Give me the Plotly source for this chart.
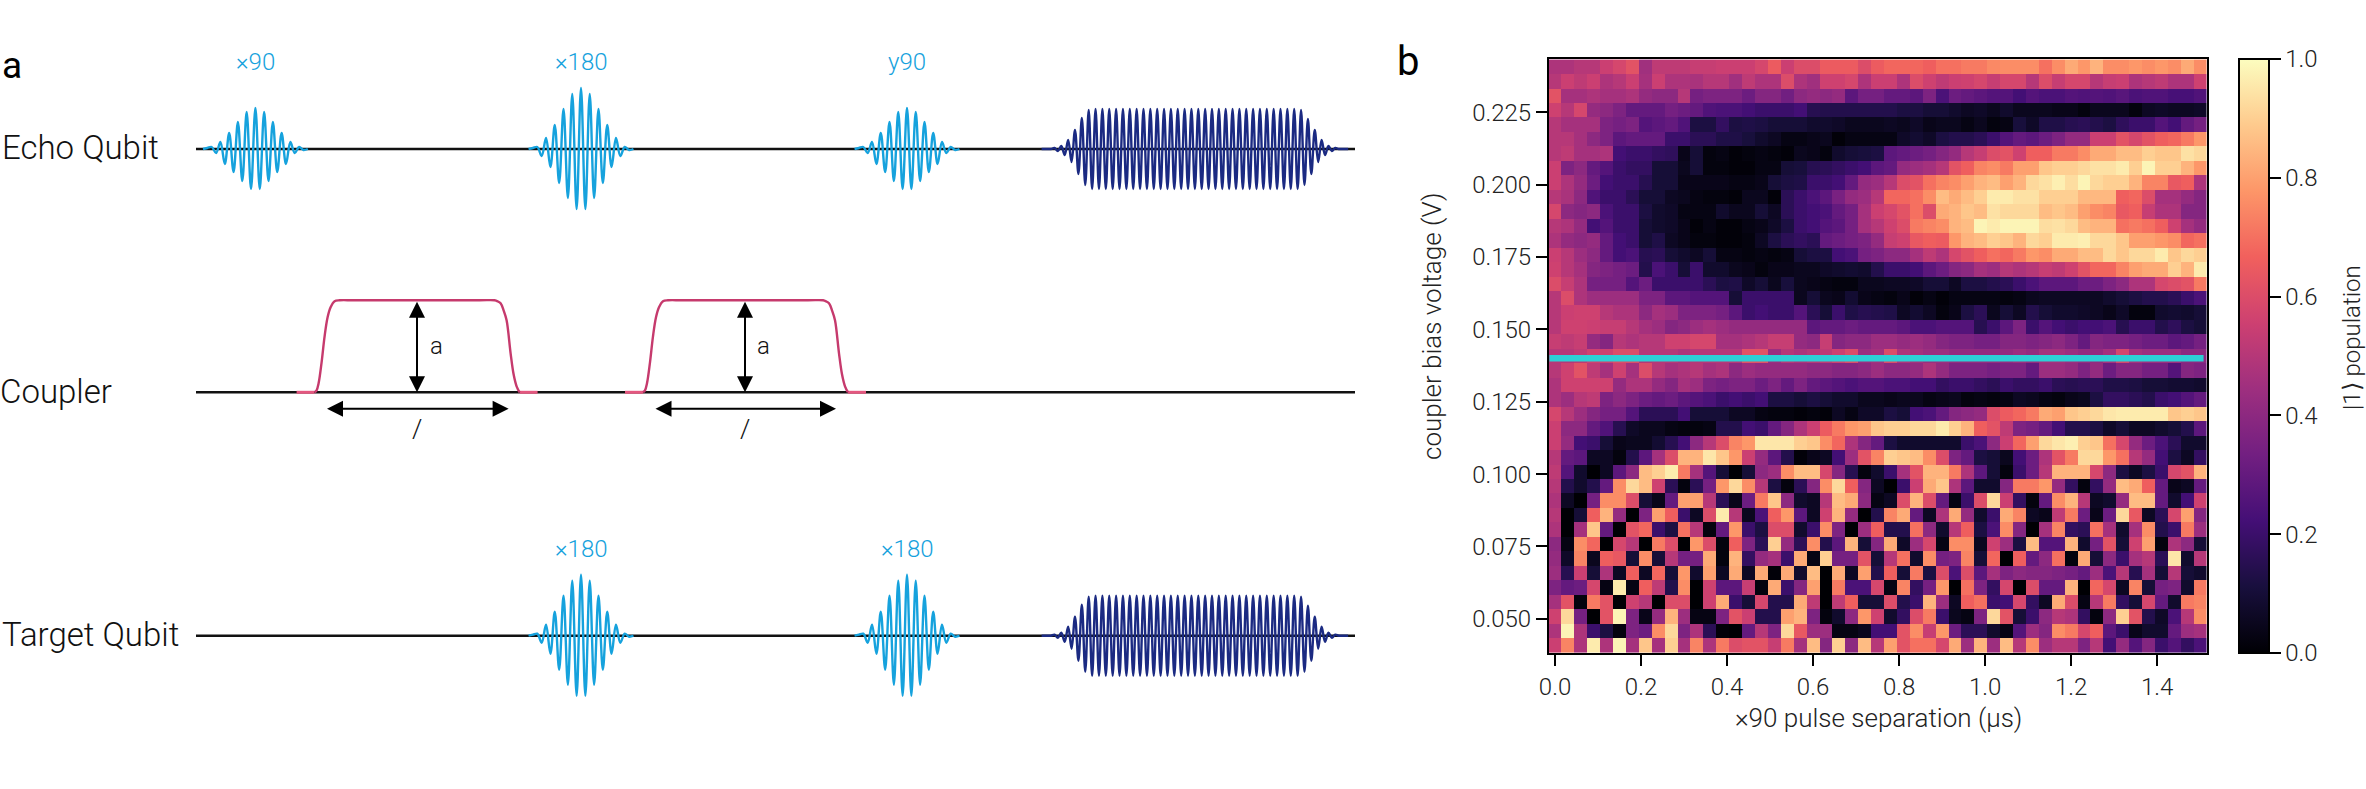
import plotly.graph_objects as go

W, H = 2366, 789
FONT = "Roboto"
BLUE, NAVY, PINK, PINK_LIGHT = "#16a2dd", "#1b2a82", "#c63a6d", "#e4577f"
CYAN = "#2dd0d6"

# ---- panel b: population, percent, top row first ----
pulse_sep_us = [i * 0.03 for i in range(51)]
bias_v = [0.2407 - i * 0.005 for i in range(41)]
tick_x = [0.0, 0.2, 0.4, 0.6, 0.8, 1.0, 1.2, 1.4]
tick_y = [0.05, 0.075, 0.1, 0.125, 0.15, 0.175, 0.2, 0.225]
cut_v = 0.14
cut_us = [-0.013, 1.508]

population = [
[48,48,50,50,55,58,62,45,52,52,52,54,54,55,55,55,58,65,55,60,60,65,65,65,60,65,68,68,68,66,70,70,72,72,75,76,76,76,70,76,82,78,84,76,76,78,76,78,76,82,76],
[50,55,52,55,48,50,55,46,55,48,48,47,50,50,45,52,48,48,60,48,45,56,56,58,48,55,55,48,60,56,52,55,56,58,54,58,58,50,60,54,58,58,50,54,55,48,50,52,48,48,56],
[62,46,46,48,46,46,48,42,40,40,50,34,36,36,36,32,38,38,33,40,42,40,42,28,34,34,30,30,28,36,24,32,30,28,26,26,22,26,24,24,26,25,26,25,27,24,25,25,23,23,25],
[56,50,58,42,40,36,30,30,30,34,32,30,25,24,24,22,20,20,20,22,15,14,14,14,14,14,14,12,12,10,10,8,6,7,5,8,5,5,5,4,4,2,5,5,5,2,6,7,6,6,7],
[50,46,46,46,36,34,36,26,28,30,25,12,12,18,12,13,12,10,10,10,8,8,7,5,5,5,6,5,7,4,5,5,3,5,2,3,11,7,13,13,15,16,14,12,17,20,20,26,22,30,34],
[50,50,46,40,36,28,30,30,30,20,20,16,16,13,13,11,8,6,3,3,4,5,1,3,3,3,3,7,9,7,12,14,14,16,20,26,30,28,32,36,42,42,55,55,62,58,62,66,68,72,78],
[50,52,46,46,48,22,20,20,18,17,4,10,2,3,1,2,3,2,1,5,4,2,8,10,11,12,28,30,32,34,38,42,50,54,60,62,56,66,66,72,72,76,82,82,86,86,90,88,88,94,92],
[55,36,40,30,26,20,18,18,10,10,5,10,2,2,1,1,3,3,10,11,15,16,18,20,22,28,30,42,44,46,50,62,66,74,76,72,80,80,88,90,90,92,94,94,96,90,98,90,90,84,78],
[55,48,42,32,22,20,20,15,10,10,4,4,4,4,3,3,4,10,12,13,20,20,22,30,42,44,50,60,62,70,74,76,80,84,86,80,84,92,94,97,93,98,92,90,90,84,74,74,64,66,48],
[50,47,40,25,20,20,16,10,10,6,5,3,2,2,1,5,5,1,16,20,24,28,35,42,44,50,68,68,70,76,86,82,86,90,96,96,94,94,90,90,90,85,85,85,66,68,60,46,46,42,38],
[58,40,38,40,24,20,20,12,8,7,3,3,3,8,5,5,10,6,16,20,22,24,30,34,46,55,58,62,70,60,82,84,88,86,94,92,92,92,86,88,86,80,76,74,64,66,54,48,48,38,38],
[50,48,42,22,26,20,20,10,8,7,4,1,3,1,1,3,4,7,12,20,22,26,28,34,46,50,56,60,72,74,76,84,86,98,96,98,98,98,93,94,92,86,84,84,70,72,70,66,56,46,42],
[48,42,40,42,30,22,20,10,13,6,4,2,2,1,1,2,6,12,16,18,16,30,32,34,36,42,54,56,64,66,65,78,84,86,90,88,84,92,90,96,96,97,92,92,88,80,80,78,76,68,70],
[55,50,44,40,30,22,24,15,16,10,8,6,10,3,3,2,3,2,3,10,12,12,22,24,34,36,40,40,46,52,48,58,62,66,70,68,72,78,76,82,82,86,86,92,88,92,92,96,88,92,90],
[56,50,46,38,36,34,32,14,24,20,10,20,8,8,5,4,2,4,4,5,5,7,8,9,8,14,20,20,22,28,32,38,40,46,44,50,48,50,54,52,56,62,68,68,74,80,82,82,90,84,96],
[60,54,48,34,34,34,26,32,20,20,20,20,16,12,13,7,10,5,11,5,4,3,2,2,5,5,6,6,7,10,10,6,12,12,14,16,20,24,28,28,28,32,32,36,40,48,48,58,60,62,72],
[50,60,48,44,44,44,44,36,36,28,28,26,26,26,10,20,20,20,20,5,10,5,4,9,4,3,2,4,1,3,1,3,3,3,3,2,3,5,6,6,6,6,6,8,10,12,14,14,16,20,24],
[50,55,56,56,50,48,48,40,46,44,36,36,36,34,28,20,22,20,20,26,16,10,20,13,15,14,13,6,9,6,2,4,12,16,5,10,6,14,10,8,8,7,6,4,7,2,2,8,9,8,10],
[50,56,56,55,54,54,50,46,44,38,40,44,46,44,42,42,42,42,42,42,28,30,30,32,30,30,30,28,24,24,26,26,26,15,20,28,36,20,26,22,20,22,22,24,15,20,20,14,17,12,10],
[54,52,54,42,38,50,48,50,50,56,56,58,58,46,46,48,50,54,54,42,40,54,38,40,40,44,44,42,44,42,38,36,36,34,34,38,38,36,38,40,36,30,38,36,36,34,32,32,28,30,34],
[50,50,52,56,56,60,60,50,50,50,48,50,50,50,50,62,62,44,50,48,50,52,56,60,44,46,60,48,46,44,44,42,42,42,42,42,44,42,46,46,44,42,42,46,58,46,44,44,44,40,40],
[50,56,62,52,46,56,46,60,50,46,48,50,46,48,40,44,42,42,42,42,40,40,38,38,40,44,40,40,42,48,42,36,36,36,34,36,36,30,44,44,42,36,42,32,38,38,34,34,26,38,36],
[48,56,56,56,56,42,48,48,42,38,46,44,36,34,36,36,32,36,30,36,30,28,26,24,26,26,24,24,22,22,18,20,20,18,16,20,18,18,20,16,15,16,16,13,13,12,10,10,9,9,8],
[48,44,50,52,36,40,36,32,30,32,28,26,24,20,22,20,22,12,12,10,12,10,8,8,5,5,4,5,5,3,4,5,2,3,2,3,6,5,3,2,4,5,12,18,18,16,14,20,22,26,30],
[58,50,44,38,34,34,26,16,16,16,22,10,10,10,6,6,3,2,2,1,2,1,6,3,7,7,12,10,22,24,30,38,40,42,60,65,68,72,82,80,88,90,92,95,96,96,96,96,88,90,88],
[55,40,40,30,25,15,7,5,5,3,2,2,3,14,14,22,20,30,38,48,55,65,72,78,80,88,90,90,92,92,96,90,84,66,62,52,36,34,30,22,14,14,12,7,10,6,6,8,10,14,28],
[55,42,22,20,10,4,5,5,9,15,22,40,50,60,74,78,95,95,95,90,88,76,68,48,38,30,12,8,8,8,8,8,20,24,40,55,68,80,92,95,97,90,88,70,58,42,32,24,16,8,8],
[50,30,28,6,6,2,14,28,46,60,84,84,95,88,78,55,42,28,14,1,4,6,22,44,62,74,90,88,86,76,60,36,30,12,10,5,22,32,48,62,72,92,92,78,70,50,42,22,12,6,18],
[52,26,8,0,6,28,40,86,90,96,72,46,26,10,0,10,40,44,76,86,86,58,38,15,2,8,20,46,62,84,84,72,48,28,10,2,20,32,50,84,84,84,58,40,12,6,12,20,58,62,84],
[50,14,8,14,30,76,92,86,56,16,2,16,34,78,92,76,50,12,2,16,38,76,92,66,38,6,0,20,55,82,88,48,28,8,8,38,72,72,78,42,18,2,18,42,86,82,66,30,4,6,30],
[48,6,0,34,76,76,60,10,4,30,80,80,50,16,4,32,72,88,40,8,6,50,86,82,40,3,6,60,84,60,30,3,20,60,92,55,18,2,30,76,84,50,6,8,42,86,86,30,8,22,56],
[50,0,10,66,84,42,0,36,80,66,20,6,60,96,50,5,24,66,78,28,6,56,84,42,0,14,74,82,30,6,48,82,42,8,20,82,74,6,4,52,72,32,4,32,92,64,6,16,58,80,38],
[48,0,46,88,30,0,62,68,20,12,70,50,2,30,78,20,12,60,60,8,20,76,36,0,44,66,14,14,70,40,8,50,66,12,24,76,38,0,46,74,18,16,70,46,8,46,76,14,20,72,44],
[40,3,76,68,0,58,50,0,72,60,0,78,60,2,66,36,16,90,42,16,76,14,28,84,10,38,82,7,44,58,3,76,76,5,56,44,12,86,26,26,84,8,34,62,10,56,80,2,48,40,10],
[42,7,74,5,66,64,10,76,10,50,34,34,82,2,84,18,42,46,20,82,3,90,34,34,62,10,50,70,8,76,34,36,74,10,68,0,66,30,40,70,2,82,10,40,20,46,50,16,95,8,50],
[44,15,55,10,48,6,66,6,68,10,78,8,80,6,82,6,82,1,82,8,86,0,82,6,80,14,66,10,72,12,60,24,60,28,46,36,40,38,38,36,34,30,44,24,50,15,46,10,50,10,8],
[36,30,32,58,3,96,3,66,52,14,76,0,56,28,28,54,2,82,20,38,80,0,72,24,24,58,3,74,18,34,78,0,70,36,18,58,0,60,30,30,84,0,68,58,6,74,10,34,36,8,72],
[46,62,2,72,62,0,56,50,0,60,60,0,56,82,20,10,58,14,14,82,52,0,52,66,10,10,60,14,20,84,44,6,66,70,20,22,58,18,6,82,60,3,50,72,18,10,58,30,8,72,74],
[56,92,34,0,62,98,36,4,42,84,44,3,3,36,62,55,14,14,80,84,36,2,8,40,78,56,8,18,60,72,20,5,3,36,92,62,10,20,40,50,48,18,2,40,90,62,14,7,24,50,76],
[48,98,48,20,12,2,36,32,76,92,36,48,16,1,0,30,50,36,92,64,44,44,3,3,5,22,22,62,76,54,78,32,16,16,8,3,26,44,38,76,72,58,66,28,20,4,8,8,30,44,46],
[55,74,48,96,48,98,46,88,46,90,46,74,48,72,60,62,62,54,72,46,86,38,90,40,86,50,80,62,70,70,58,82,44,84,44,86,50,76,44,50,50,36,50,22,42,26,38,20,26,18,24],
]
population_frac = [[v / 100 for v in row] for row in population]

# ---- panel a: pulse extremes, positive is up ----
small_pulse = [0,1,2,-4,7,-15,16,-23,27,-32,37,-40,41,-40,37,-32,27,-23,16,-15,7,-4,2,-1,0]
large_pulse = [0,1,2,-7,11,-18,24,-34,40,-49,55,-60,61,-60,55,-49,40,-34,24,-18,11,-7,2,-1,0]
readout_env = [0,0,1,2,3,6,9,13,19,25,31,36,39] + [40] * 61 + [39,36,30,25,19,13,9,6,3,2,1,0,0]
small_step, readout_step = 4.37, 3.425

echo_centres = [("×90", 255.4, small_pulse), ("×180", 581, large_pulse), ("y90", 907, small_pulse)]
target_centres = [("×180", 581, large_pulse), ("×180", 907, large_pulse)]
readout_start = 1047.6
echo_y, coupler_y, target_y = 149, 392.3, 635.7
line_x = [196, 1355]
label_pulse_y = {"echo": 62.5, "target": 549}

coupler_t = [-18, 0, 2, 4, 7, 10, 13, 16, 20, 25, 40, 165, 180, 183, 186, 189, 192, 196, 199, 202, 205, 223]
coupler_a = [0, 0, 2, 9, 30, 56, 75, 85, 91, 92, 92, 92, 92, 91, 89, 82, 72, 39, 18, 6, 0, 0]
coupler_starts = [314.6, 643]
coupler_top = 300.3
v_arrow_x = [417, 745]
h_arrow_spans = [(325.5, 508.6), (654, 836)]
h_arrow_y = 408.7
left_labels = [("Echo Qubit", 0, 147), ("Coupler", -2, 391), ("Target Qubit", 0, 634)]

fig = go.Figure()
fig.add_trace(go.Heatmap(
    z=population_frac, x=pulse_sep_us, y=bias_v, zmin=0, zmax=1, colorscale="Magma", xaxis="x", yaxis="y",
    hoverinfo="skip",
    colorbar=dict(x=2239 / W, xanchor="left", xpad=0, ypad=0, thickness=30, thicknessmode="pixels",
                  y=(1 - 653 / H), yanchor="bottom", len=594 / H, lenmode="fraction",
                  outlinecolor="black", outlinewidth=2, tickmode="array",
                  tickvals=[0, .2, .4, .6, .8, 1], ticktext=["0.0", "0.2", "0.4", "0.6", "0.8", "1.0"],
                  ticks="outside", ticklen=11, tickwidth=2, tickcolor="black",
                  tickfont=dict(family=FONT, size=24, color="#222", weight=300)),
))
fig.add_trace(go.Scatter(x=cut_us, y=[cut_v, cut_v], mode="lines", xaxis="x", yaxis="y",
                         line=dict(color=CYAN, width=6.5), hoverinfo="skip"))


def add(x, y, color, width, shape="linear"):
    fig.add_trace(go.Scatter(x=x, y=y, mode="lines", xaxis="x2", yaxis="y2", hoverinfo="skip",
                             line=dict(color=color, width=width, shape=shape, smoothing=1.0)))


for y0 in (echo_y, coupler_y, target_y):
    add(line_x, [y0, y0], "#111", 2.4)


def pulse(centre, y0, peaks):
    n = len(peaks) // 2
    xs = [centre + (k - n) * small_step for k in range(len(peaks))]
    add(xs, [y0 - p for p in peaks], BLUE, 2.4, "spline")


def readout(y0):
    xs = [readout_start + k * readout_step for k in range(len(readout_env))]
    ys = [y0 - a * (1 if k % 2 == 0 else -1) for k, a in enumerate(readout_env)]
    xs = [xs[0] - 6] + xs + [xs[-1] + 6]
    ys = [y0] + ys + [y0]
    add(xs, ys, NAVY, 2.4, "spline")


for _, c, p in echo_centres:
    pulse(c, echo_y, p)
for _, c, p in target_centres:
    pulse(c, target_y, p)
readout(echo_y)
readout(target_y)

for s in coupler_starts:
    add([s + coupler_t[0], s + coupler_t[1]], [coupler_y, coupler_y], PINK_LIGHT, 3)
    add([s + coupler_t[-2], s + coupler_t[-1]], [coupler_y, coupler_y], PINK_LIGHT, 3)
    add([s + t for t in coupler_t[1:-1]], [coupler_y - a for a in coupler_a[1:-1]], PINK, 2.4, "spline")


def text(x, y, s, size, color="#111", anchor="center", weight=300, angle=0):
    return dict(x=x / W, y=1 - y / H, text=s, xref="paper", yref="paper", showarrow=False, xanchor=anchor,
                yanchor="middle", textangle=angle, font=dict(family=FONT, size=size, color=color, weight=weight))


def arrow(x0, y0, x1, y1):
    return dict(x=x1, y=y1, ax=x0, ay=y0, xref="x2", yref="y2", axref="x2", ayref="y2", text="",
                showarrow=True, arrowhead=2, arrowside="end+start", arrowsize=1.6, arrowwidth=2, arrowcolor="black")


ann = [text(0, 65, "a", 37, "#000", "left", 400), text(1395, 62, "b", 40, "#000", "left", 400)]
for s, x, y in left_labels:
    ann.append(text(x, y, s, 33, "#111", "left"))
for s, c, _ in echo_centres:
    ann.append(text(c, label_pulse_y["echo"], s, 24, BLUE))
for s, c, _ in target_centres:
    ann.append(text(c, label_pulse_y["target"], s, 24, BLUE))
for x0 in v_arrow_x:
    ann.append(arrow(x0, coupler_top, x0, coupler_y))
    ann.append(text(x0 + 19, 346, "a", 24, "#111"))
    ann.append(text(x0, 429, "/", 26, "#111"))
for x0, x1 in h_arrow_spans:
    ann.append(arrow(x0, h_arrow_y, x1, h_arrow_y))
ann.append(text(2352, 338, "|1⟩ population", 24, "#222", angle=-90))
ann.append(text(1432, 326, "coupler bias voltage (V)", 26, "#222", angle=-90))
ann.append(text(1878, 718, "×90 pulse separation (µs)", 26, "#222"))

axis_font = dict(family=FONT, size=24, color="#222", weight=300)
fig.update_layout(
    width=W, height=H, margin=dict(l=0, r=0, t=0, b=0, autoexpand=False), paper_bgcolor="white", plot_bgcolor="white",
    showlegend=False, annotations=ann,
    xaxis=dict(domain=[1549 / W, 2207 / W], range=[-0.014, 1.516], tickvals=tick_x, anchor="y",
               ticktext=[f"{v:.1f}" for v in tick_x], ticks="outside", ticklen=11, tickwidth=2, tickcolor="black",
               showline=True, linecolor="black", linewidth=2, mirror=True, showgrid=False, zeroline=False,
               tickfont=axis_font),
    yaxis=dict(domain=[1 - 653 / H, 1 - 59 / H], range=[0.0382, 0.2434], tickvals=tick_y, anchor="x",
               ticktext=[f"{v:.3f}" for v in tick_y], ticks="outside", ticklen=11, tickwidth=2, tickcolor="black",
               showline=True, linecolor="black", linewidth=2, mirror=True, showgrid=False, zeroline=False,
               tickfont=axis_font),
    xaxis2=dict(domain=[0, 1390 / W], range=[0, 1390], visible=False, anchor="y2", fixedrange=True),
    yaxis2=dict(domain=[0, 1], range=[H, 0], visible=False, anchor="x2", fixedrange=True),
)
fig.write_html("out.html", config={"displayModeBar": False},
               post_script="document.body.style.margin='0';document.body.style.overflow='hidden';")
